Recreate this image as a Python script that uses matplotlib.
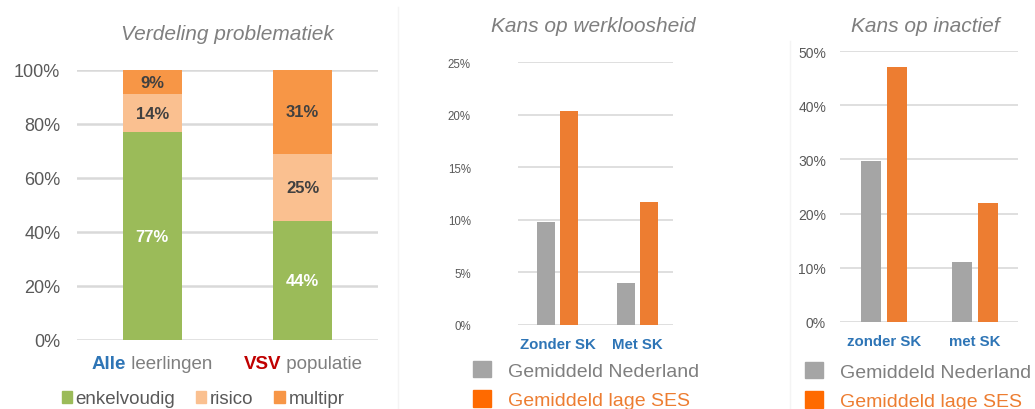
import matplotlib
matplotlib.use("Agg")
import matplotlib.pyplot as plt
from matplotlib.patches import Patch
from matplotlib.offsetbox import TextArea, HPacker, AnnotationBbox
import numpy as np

plt.rcParams['font.family'] = ['Liberation Sans', 'DejaVu Sans']

# --- data ---
groups_1 = ["Alle", "VSV"]
groups_1_rest = [" leerlingen", " populatie"]
enkelvoudig = [0.77, 0.44]
risico = [0.14, 0.25]
multipr = [0.09, 0.31]
series_1 = ["enkelvoudig", "risico", "multipr"]

cats_2 = ["Zonder SK", "Met SK"]
werkloos_nl = [9.8, 4.0]
werkloos_ses = [20.3, 11.7]

cats_3 = ["zonder SK", "met SK"]
inactief_nl = [29.7, 11.0]
inactief_ses = [47.0, 22.0]

legend_2 = ["Gemiddeld Nederland", "Gemiddeld lage SES"]

GREEN = "#9BBB59"
LIGHT = "#FAC090"
ORANGE1 = "#F79646"
GREY = "#A5A5A5"
ORANGE = "#ED7D31"
BLUE = "#2E75B6"
RED = "#C00000"
TXT = "#595959"
GRID = "#D9D9D9"

W, H = 1035, 410
fig = plt.figure(figsize=(W / 100, H / 100), dpi=100)


def px_axes(x0, x1, ytop, ybot):
    return fig.add_axes([x0 / W, (H - ybot) / H, (x1 - x0) / W, (ybot - ytop) / H])


def clean(ax):
    for s in ax.spines.values():
        s.set_visible(False)
    ax.tick_params(length=0)
    ax.set_axisbelow(True)


# ---------- panel 1: stacked bars ----------
ax1 = px_axes(77, 378, 71, 341)
clean(ax1)
x = np.arange(len(groups_1))
bw = 0.39
ax1.bar(x, enkelvoudig, bw, color=GREEN, zorder=2)
ax1.bar(x, risico, bw, bottom=enkelvoudig, color=LIGHT, zorder=2)
bot3 = np.array(enkelvoudig) + np.array(risico)
ax1.bar(x, multipr, bw, bottom=bot3, color=ORANGE1, zorder=2)
for i in range(len(x)):
    ax1.text(x[i], enkelvoudig[i] / 2, f"{enkelvoudig[i]*100:.0f}%", ha='center', va='center',
             color='white', fontsize=12, fontweight='bold')
    ax1.text(x[i], enkelvoudig[i] + risico[i] / 2, f"{risico[i]*100:.0f}%", ha='center', va='center',
             color='#404040', fontsize=12, fontweight='bold')
    ax1.text(x[i], bot3[i] + multipr[i] / 2, f"{multipr[i]*100:.0f}%", ha='center', va='center',
             color='#404040', fontsize=12, fontweight='bold')
ax1.set_xlim(-0.5, 1.5)
ax1.set_ylim(0, 1)
ax1.set_yticks(np.arange(0, 1.01, 0.2))
ax1.set_yticklabels([f"{v*100:.0f}%" for v in np.arange(0, 1.01, 0.2)], color=TXT, fontsize=13)
ax1.tick_params(axis='y', pad=12)
ax1.set_xticks([])
ax1.yaxis.grid(True, color=GRID, lw=1.8)
ax1.set_title("Verdeling problematiek", style='italic', color='#7F7F7F', fontsize=15, pad=22)
cat_colors = [BLUE, RED]
for i in range(len(x)):
    pack = HPacker(children=[
        TextArea(groups_1[i], textprops=dict(color=cat_colors[i], fontweight='bold', fontsize=13.5)),
        TextArea(groups_1_rest[i], textprops=dict(color='#7F7F7F', fontsize=13.5)),
    ], pad=0, sep=0)
    ab = AnnotationBbox(pack, (x[i], 0), xybox=(0, -17), boxcoords='offset points',
                        frameon=False, box_alignment=(0.5, 0.5), annotation_clip=False)
    ax1.add_artist(ab)
h1 = [Patch(color=c) for c in [GREEN, LIGHT, ORANGE1]]
fig.legend(h1, series_1, loc='center', bbox_to_anchor=(203 / W, 1 - 400 / H), ncol=3,
           frameon=False, fontsize=13.5, handlelength=0.55, handleheight=0.55,
           handletextpad=0.2, columnspacing=1.1, labelcolor='#595959')


# ---------- panels 2 and 3: grouped bars ----------
def grouped(ax, cats, nl, ses, bw, off, ymax, step, tsize, pad, title, tx, legy, legx):
    clean(ax)
    xx = np.arange(len(cats))
    ax.bar(xx - off, nl, bw, color=GREY, zorder=2)
    ax.bar(xx + off, ses, bw, color=ORANGE, zorder=2)
    ax.set_ylim(0, ymax)
    ticks = np.arange(0, ymax + 0.01, step)
    ax.set_yticks(ticks)
    ax.set_yticklabels([f"{t:.0f}%" for t in ticks], color=TXT, fontsize=tsize)
    ax.tick_params(axis='y', pad=pad)
    ax.yaxis.grid(True, color=GRID, lw=1.2)
    ax.set_xticks(xx)
    ax.set_xticklabels(cats, color=BLUE, fontweight='bold', fontsize=10.8)
    ax.tick_params(axis='x', pad=9)
    fig.text(tx / W, 1 - 26 / H, title, ha='center', va='center', style='italic',
             color='#7F7F7F', fontsize=15)
    hd = [Patch(color=GREY), Patch(color='#FF6A00')]
    fig.legend(hd, legend_2, loc='upper left', bbox_to_anchor=(legx / W, 1 - legy / H),
               frameon=False, fontsize=14, handlelength=0.9, handleheight=0.9,
               handletextpad=0.9, labelspacing=0.55, borderaxespad=0, borderpad=0,
               labelcolor=['#7F7F7F', ORANGE])


ax2 = px_axes(518, 673, 63, 326)
ax2.set_xlim(-0.5, 1.44)
grouped(ax2, cats_2, werkloos_nl, werkloos_ses, 0.225, 0.144, 25, 5, 8.3, 34,
        "Kans op werkloosheid", 593, 362, 473)

ax3 = px_axes(840, 1018, 52, 323)
ax3.set_xlim(-0.49, 1.48)
grouped(ax3, cats_3, inactief_nl, inactief_ses, 0.221, 0.144, 50, 10, 10, 10,
        "Kans op inactief", 925, 363, 805)

# faint separators from the composite image
fig.add_artist(plt.Line2D([398 / W, 398 / W], [0, 1 - 8 / H], color='#F4F4F4', lw=1))
fig.add_artist(plt.Line2D([790 / W, 790 / W], [0, 1 - 42 / H], color='#F4F4F4', lw=1))

fig.savefig("out.png", dpi=100)
